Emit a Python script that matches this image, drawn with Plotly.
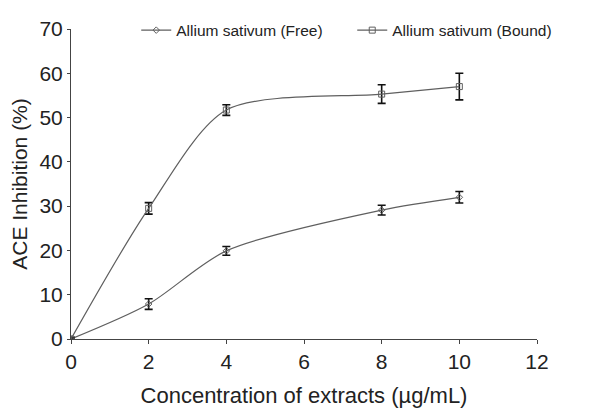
import plotly.graph_objects as go

conc = [0, 2, 4, 8, 10]
free_vals = [0, 7.9, 19.9, 29.1, 32.0]
free_err = [0.3, 1.2, 1.0, 1.1, 1.3]
bound_vals = [0, 29.5, 51.7, 55.3, 57.0]
bound_err = [0.3, 1.3, 1.2, 2.1, 3.0]

x_ticks = [0, 2, 4, 6, 8, 10, 12]
y_ticks = [0, 10, 20, 30, 40, 50, 60, 70]

line_color = "#5f5f5f"
fig = go.Figure()
fig.add_trace(go.Scatter(
    x=conc, y=free_vals, name="Allium sativum (Free)", mode="lines+markers",
    line=dict(color=line_color, width=1.2, shape="spline", smoothing=0.8),
    marker=dict(symbol="diamond-open", size=5, color=line_color, line=dict(width=1)),
    error_y=dict(type="data", array=free_err, color="#111", thickness=1.6, width=4),
))
fig.add_trace(go.Scatter(
    x=conc, y=bound_vals, name="Allium sativum (Bound)", mode="lines+markers",
    line=dict(color=line_color, width=1.2, shape="spline", smoothing=0.8),
    marker=dict(symbol="square-open", size=6, color=line_color, line=dict(width=1)),
    error_y=dict(type="data", array=bound_err, color="#111", thickness=1.6, width=4),
))

fig.update_layout(
    width=600, height=418,
    margin=dict(l=63, r=71, t=21, b=87, autoexpand=False),
    paper_bgcolor="white", plot_bgcolor="white",
    font=dict(family="Liberation Sans, Arial, sans-serif", color="#222"),
    legend=dict(orientation="h", x=0.14, y=0.995, xanchor="left", yanchor="middle",
                font=dict(size=15.5, color="#222"), bgcolor="rgba(0,0,0,0)",
                itemwidth=30, tracegroupgap=0, entrywidth=171),
    showlegend=True,
)
fig.update_xaxes(
    range=[0, 12], tickvals=x_ticks, ticktext=[str(v) for v in x_ticks],
    showline=True, linecolor="#444", linewidth=1, ticks="outside", ticklen=4,
    tickcolor="#444", showgrid=False, zeroline=False, automargin=False,
    tickfont=dict(size=21), title=dict(text="Concentration of extracts (µg/mL)", font=dict(size=22), standoff=15),
)
fig.update_yaxes(
    range=[0, 70], tickvals=y_ticks, ticktext=[str(v) for v in y_ticks],
    showline=True, linecolor="#444", linewidth=1, ticks="outside", ticklen=3,
    tickcolor="#444", showgrid=False, zeroline=False, automargin=False,
    tickfont=dict(size=21), title=dict(text="ACE Inhibition (%)", font=dict(size=21), standoff=6),
)
fig.write_html("out.html")
